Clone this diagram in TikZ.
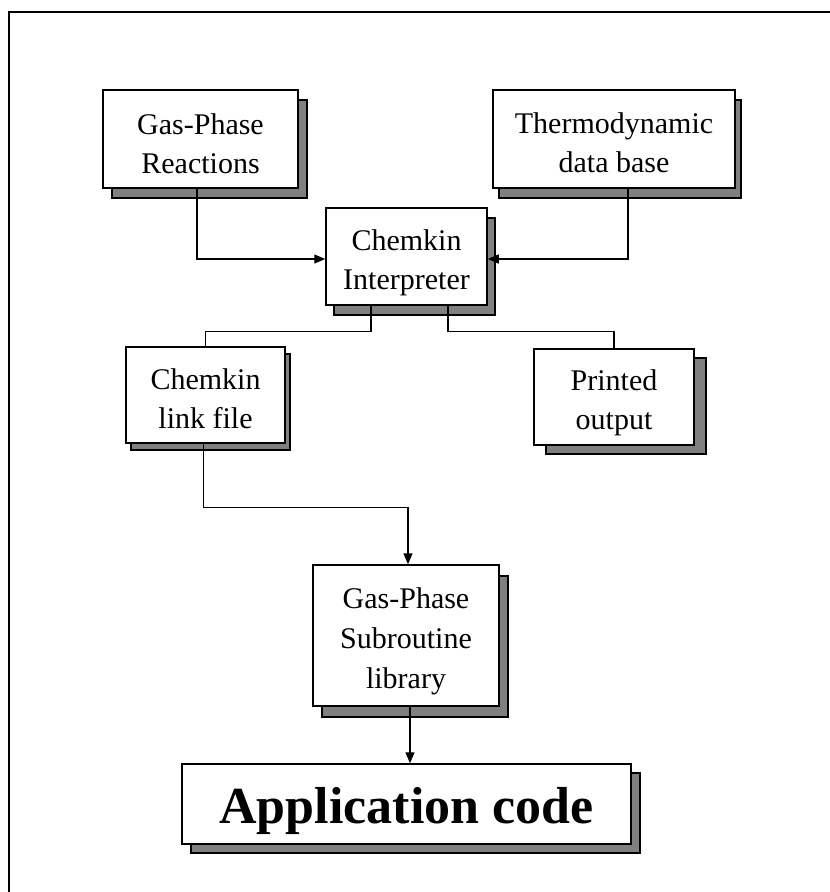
\documentclass[tikz,border=0pt]{standalone}
\usepackage{fontspec}
\setmainfont{Liberation Serif}
\usetikzlibrary{arrows.meta,shadows}
\definecolor{shadowgray}{HTML}{808080}
\begin{document}
\begin{tikzpicture}[x=1pt,y=-1pt,
  box/.style={draw=black, fill=white, line width=1.5pt, rectangle, inner sep=0pt},
  sh/.style 2 args={copy shadow={shadow xshift=#1pt, shadow yshift=-#2pt, fill=shadowgray, draw=black, line width=1.5pt}},
  txt/.style={align=center, inner sep=0pt, font=\fontsize{30}{39}\selectfont},
  conn/.style={draw=black, line width=1.3pt},
  arr/.style={conn, -{Triangle[length=11pt,width=9pt]}}
]
\useasboundingbox (0,0) rectangle (830,892);
\fill[white] (0,0) rectangle (830,892);
% frame (top and left edges)
\draw[line width=2pt, black] (9,892) -- (9,12) -- (830,12);

% boxes
\node[box, sh={9}{10}, minimum width=195pt, minimum height=98pt] (gpr) at (200.5,139) {};
\node[txt] (gprt) at (200.5,143.5) {Gas-Phase\\Reactions};

\node[box, sh={6}{10}, minimum width=242pt, minimum height=98pt] (thermo) at (614,139) {};
\node[txt] (thermot) at (614,143) {Thermodynamic\\data base};

\node[box, sh={8}{10}, minimum width=161pt, minimum height=97pt] (interp) at (406.5,256.5) {};
\node[txt] (interpt) at (406.5,263) {Chemkin\\Interpreter};

\node[box, sh={5}{7}, minimum width=159pt, minimum height=96pt] (link) at (205.5,395) {};
\node[txt] (linkt) at (205.5,399) {Chemkin\\link file};

\node[box, sh={12}{9}, minimum width=160pt, minimum height=96pt] (printed) at (614,397) {};
\node[txt] (printedt) at (614,403) {Printed\\output};

\node[box, sh={9}{11}, minimum width=186pt, minimum height=141pt] (sub) at (406,635.5) {};
\node[txt, font=\fontsize{30}{40}\selectfont] (subt) at (406,641) {Gas-Phase\\Subroutine\\library};

\node[box, sh={9}{9}, minimum width=449pt, minimum height=80pt] (app) at (406.5,804) {};
\node[inner sep=0pt, font=\fontsize{52}{60}\selectfont\bfseries] (appt) at (406.5,811) {Application code};

% connectors
\draw[arr] ([xshift=-3.5pt]gpr.south) |- ([yshift=-2.5pt]interp.west);
\draw[arr] ([xshift=14pt]thermo.south) |- ([yshift=-2.5pt]interp.east);
\draw[conn] ([xshift=-35.5pt]interp.south) -- ++(0,26) -| (link.north);
\draw[conn] ([xshift=41.5pt]interp.south) -- ++(0,26) -| (printed.north);
\draw[arr] ([xshift=-2pt]link.south) -- ++(0,64) -| ([xshift=2pt]sub.north);
\draw[arr] ([xshift=4pt]sub.south) -- ([xshift=3.5pt]app.north);
\end{tikzpicture}
\end{document}
